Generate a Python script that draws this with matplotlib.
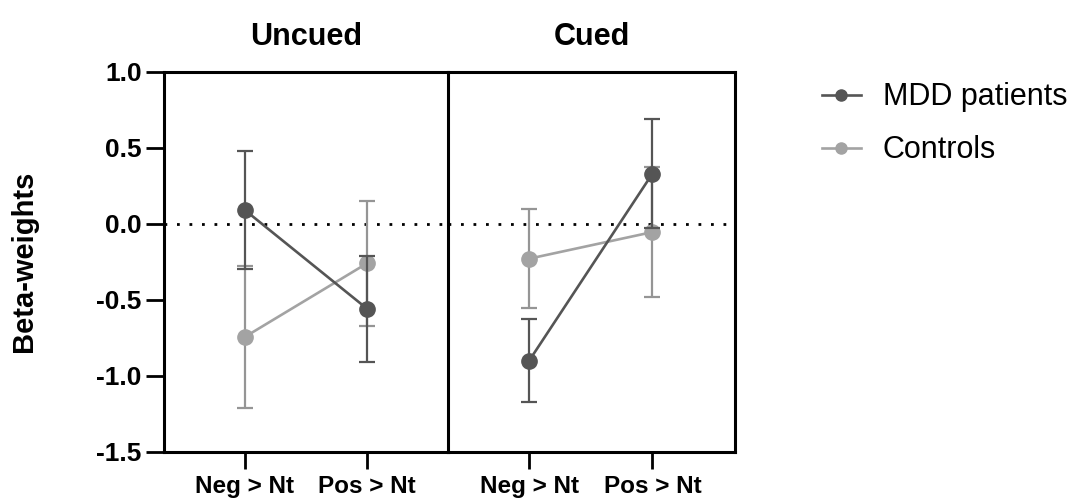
import numpy as np
import matplotlib
matplotlib.use('Agg')
import matplotlib.pyplot as plt
from matplotlib.lines import Line2D

plt.rcParams['font.family'] = ['Liberation Sans', 'DejaVu Sans']
plt.rcParams['axes.unicode_minus'] = False

condiciones = ['Neg > Nt', 'Pos > Nt']
paneles = ['Uncued', 'Cued']
grupos = ['MDD patients', 'Controls']

# media y error de cada grupo, por panel
mdd_media = {'Uncued': [0.09, -0.56], 'Cued': [-0.90, 0.33]}
mdd_error = {'Uncued': [0.39, 0.35], 'Cued': [0.27, 0.36]}
ctrl_media = {'Uncued': [-0.745, -0.26], 'Cued': [-0.23, -0.055]}
ctrl_error = {'Uncued': [0.47, 0.41], 'Cued': [0.325, 0.427]}

y_ticks = [-1.5, -1.0, -0.5, 0.0, 0.5, 1.0]
y_labels = ['-1.5', '-1.0', '-0.5', '0.0', '0.5', '1.0']

color_mdd = '#555555'
color_ctrl = '#a3a3a3'

fig = plt.figure(figsize=(10.74, 5.0), dpi=100)
ax1 = fig.add_axes([0.1527, 0.0966, 0.2644, 0.76])
ax2 = fig.add_axes([0.4171, 0.0966, 0.2673, 0.76])

x = np.arange(len(condiciones))

for ax, panel in zip([ax1, ax2], paneles):
    ax.set_facecolor('none')
    ax.errorbar(x, ctrl_media[panel], yerr=ctrl_error[panel], color=color_ctrl,
                ecolor='#959595', elinewidth=1.6, capsize=6, capthick=1.6,
                marker='o', markersize=11, linewidth=1.9, zorder=3)
    ax.errorbar(x, mdd_media[panel], yerr=mdd_error[panel], color=color_mdd,
                ecolor=color_mdd, elinewidth=1.6, capsize=6, capthick=1.6,
                marker='o', markersize=11, linewidth=1.9, zorder=4)
    ax.axhline(0, color='black', linestyle=(0, (1, 3.5)), linewidth=2, zorder=2)
    ax.set_ylim(-1.5, 1.0)
    ax.set_xticks(x)
    ax.set_xticklabels(condiciones, fontsize=17.5, fontweight='bold')
    ax.set_title(panel, fontsize=22, fontweight='bold', pad=19)
    for s in ax.spines.values():
        s.set_linewidth(2.2)
    ax.tick_params(axis='x', length=12, width=2, pad=5)

ax1.set_xlim(-0.66, 1.66)
ax2.set_xlim(-0.66, 1.67)

ax1.set_yticks(y_ticks)
ax1.set_yticklabels(y_labels, fontsize=19, fontweight='bold')
ax1.tick_params(axis='y', length=13, width=2, pad=3)
ax1.set_ylabel('Beta-weights', fontsize=21, fontweight='bold')
ax1.yaxis.set_label_coords(-0.445, 0.5)

ax2.set_yticks([])
ax2.spines['left'].set_visible(False)

handles = [Line2D([0], [0], color=color_mdd, marker='o', markersize=8, linewidth=1.9),
           Line2D([0], [0], color=color_ctrl, marker='o', markersize=8, linewidth=1.9)]
fig.legend(handles, grupos, loc='upper left', bbox_to_anchor=(0.765, 0.835),
           frameon=False, fontsize=22, handlelength=1.3, handletextpad=0.7,
           labelspacing=0.75, borderpad=0, borderaxespad=0)

plt.savefig('out.png', dpi=100)
